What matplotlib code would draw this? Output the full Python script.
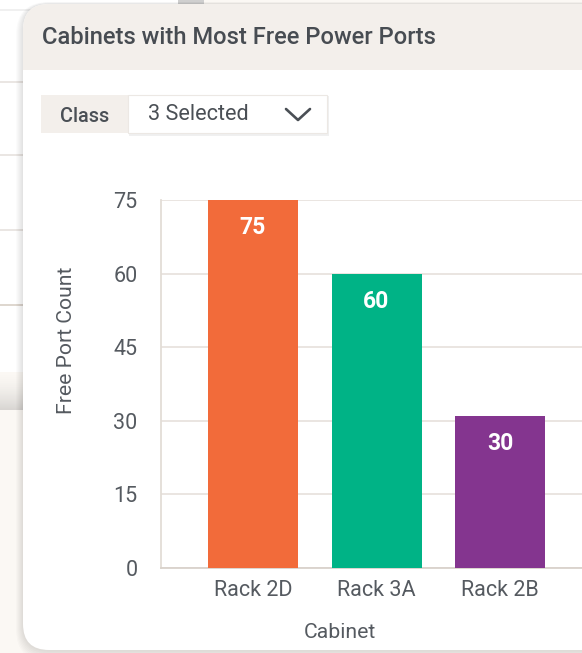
import matplotlib
matplotlib.use("Agg")
import matplotlib.pyplot as plt
from matplotlib.patches import FancyBboxPatch, Rectangle
import numpy as np

# ---- data ----
categories = ["Rack 2D", "Rack 3A", "Rack 2B"]
values = [75, 60, 31]
value_labels = ["75", "60", "30"]
bar_colors = ["#f26b3a", "#00b386", "#84358f"]
yticks = [0, 15, 30, 45, 60, 75]
title = "Cabinets with Most Free Power Ports"
filter_label = "Class"
filter_value = "3 Selected"
x_label = "Cabinet"
y_label = "Free Port Count"

W, H = 582, 653
plt.rcParams['font.family'] = ['Roboto', 'DejaVu Sans']
fig = plt.figure(figsize=(W / 100, H / 100), dpi=100)
fig.patch.set_facecolor("#fbf8f4")

# background UI layer in pixel coords
bg = fig.add_axes([0, 0, 1, 1], zorder=0)
bg.set_xlim(0, W)
bg.set_ylim(H, 0)
bg.axis("off")

# panel behind card (left)
bg.add_patch(Rectangle((0, 0), 200, 372, facecolor="white", edgecolor="none", zorder=0.5))
for yy, c in [(10, "#eeeeee"), (82, "#e6e2de"), (155, "#e6e2de"), (230, "#e6e2de"), (305, "#d8cfc6")]:
    bg.plot([0, 60], [yy, yy], color=c, lw=1.2, zorder=0.6)
# soft shadow under behind-panel (vertical gradient)
t = np.linspace(0, 1, 64)
alpha = 0.22 * (1 - t) ** 1.6
grad = np.zeros((64, 1, 4))
grad[:, 0, :3] = 0.35
grad[:, 0, 3] = alpha
bg.imshow(grad, extent=(0, 60, 372, 410), origin="upper", aspect="auto",
          interpolation="bilinear", zorder=0.6)
bg.set_xlim(0, W)
bg.set_ylim(H, 0)
# shadow at top
bg.add_patch(Rectangle((178, 0), 26, 5, facecolor="#cfcfcf", edgecolor="none", zorder=0.6))

# card shadow
for k in range(8):
    sh = FancyBboxPatch((23 - k, 4 - k * 0.3), 640 + 2 * k, 646 + 2 * k,
                        boxstyle="round,pad=0,rounding_size=%d" % (26 + k),
                        facecolor="black", alpha=0.014, edgecolor="none", zorder=1)
    bg.add_patch(sh)
card = FancyBboxPatch((23, 4), 640, 646, boxstyle="round,pad=0,rounding_size=26",
                      facecolor="white", edgecolor="none", zorder=1.5)
bg.add_patch(card)
hdr = Rectangle((0, 0), W, 70, facecolor="#f3efeb", edgecolor="none", zorder=1.6)
bg.add_patch(hdr)
hdr.set_clip_path(card)
bg.text(42, 38, title, fontsize=17.1, fontweight="medium", color="#474c52",
        va="center", ha="left", zorder=3)

# filter control
bg.add_patch(Rectangle((129, 96), 200, 40, facecolor="black", alpha=0.06,
                       edgecolor="none", zorder=2))
bg.add_patch(Rectangle((41, 95), 88, 38, facecolor="#f3efeb", edgecolor="none", zorder=2.1))
bg.add_patch(Rectangle((128, 95), 199, 38, facecolor="white", edgecolor="#ece8e4",
                       lw=0.8, zorder=2.2))
bg.text(85, 116, filter_label, fontsize=14.2, fontweight="medium", color="#4a4f55",
        ha="center", va="center", zorder=3)
bg.text(148, 114, filter_value, fontsize=15.6, color="#4a4f55", ha="left", va="center",
        zorder=3)
bg.plot([286, 298, 310], [109, 120, 109], color="#4a4f55", lw=1.9,
        solid_capstyle="round", zorder=3)

# ---- chart ----
px_left, px_right, px_top, px_bot = 161, 600, 200, 568
ax = fig.add_axes([px_left / W, (H - px_bot) / H, (px_right - px_left) / W, (px_bot - px_top) / H],
                  zorder=2)
ax.set_facecolor("none")
x = np.arange(len(categories))
spacing = 123.5
ax.set_xlim(-(253 - px_left) / spacing, (px_right - 253) / spacing)
ax.set_ylim(0, 75)
ax.set_yticks(yticks)
ax.yaxis.grid(True, color="#e8e3de", lw=1.3)
ax.set_axisbelow(True)
ax.bar(x, values, width=90 / spacing, color=bar_colors, zorder=3)
for xi, v, lab in zip(x, values, value_labels):
    ax.annotate(lab, (xi, v), xytext=(0, -20), textcoords="offset points",
                ha="center", va="center", color="white", fontsize=16.5, fontweight="bold")
ax.set_xticks(x)
ax.set_xticklabels(categories)
for s in ["top", "right"]:
    ax.spines[s].set_visible(False)
ax.spines["left"].set_color("#e3ddd7")
ax.spines["left"].set_linewidth(1.3)
ax.spines["bottom"].set_color("#d9d2cb")
ax.spines["bottom"].set_linewidth(1.3)
ax.tick_params(axis="both", length=0, labelsize=15.5, labelcolor="#555a60")
ax.tick_params(axis="y", pad=17)
ax.tick_params(axis="x", pad=9)
fig.text(340 / W, 1 - 632 / H, x_label, fontsize=15.2, color="#555a60",
         ha="center", va="center")
fig.text(67 / W, 1 - 340 / H, y_label, rotation=90, fontsize=15.2, color="#555a60",
         ha="center", va="center")

fig.savefig("out.png", dpi=100, facecolor=fig.get_facecolor())
